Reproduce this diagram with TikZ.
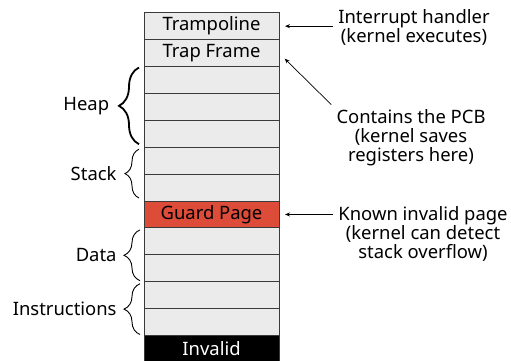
\documentclass[tikz,border=0pt]{standalone}
\usepackage{fontspec}
\setmainfont{Noto Sans}
\usetikzlibrary{positioning, arrows.meta, decorations.pathreplacing}

\definecolor{pagegray}{HTML}{EBEBEB}
\definecolor{guardred}{HTML}{DD4B39}
\definecolor{edgegray}{HTML}{3A3A3A}

\tikzset{
  page/.style={draw=edgegray, fill=pagegray, line width=0.9bp, minimum width=135bp,
    minimum height=26.9bp, inner sep=0pt, outer sep=0pt},
  note/.style={align=center, inner sep=5bp},
  pointer/.style={-{Stealth[length=5bp, width=4bp]}, line width=0.7bp, shorten >=6bp},
  region/.style={decorate, decoration={brace, amplitude=#1}, line width=0.9bp},
  tag/.style={inner sep=0pt},
}

\begin{document}
\begin{tikzpicture}[x=1bp, y=-1bp, node distance=0pt, font=\fontsize{18.5}{19}\selectfont]
  \useasboundingbox (0,0) rectangle (511,360);

  % the pages, top to bottom
  \node[page] (tramp) at (211.5, 26.15) {Trampoline};
  \node[page, below=of tramp] (trap) {Trap Frame};
  \node[page, below=of trap] (heapa) {};
  \node[page, below=of heapa] (heapb) {};
  \node[page, below=of heapb] (heapc) {};
  \node[page, below=of heapc] (stacka) {};
  \node[page, below=of stacka] (stackb) {};
  \node[page, below=of stackb, fill=guardred] (guard) {Guard Page};
  \node[page, below=of guard] (dataa) {};
  \node[page, below=of dataa] (datab) {};
  \node[page, below=of datab] (insta) {};
  \node[page, below=of insta] (instb) {};
  \node[page, below=of instb, fill=black, text=white] (invalid) {Invalid};

  % regions on the left
  \draw[region=20bp, line width=1.8bp] ([xshift=-5bp, yshift=3bp]heapc.south west) -- ([xshift=-5bp, yshift=-1bp]heapa.north west)
    node[tag, midway, left=29bp] (heap) {Heap};
  \draw[region=14bp] ([xshift=-5bp, yshift=3bp]stackb.south west) -- ([xshift=-5bp, yshift=-2bp]stacka.north west)
    node[tag, midway, left=22bp] (stack) {Stack};
  \draw[region=16bp] ([xshift=-4bp, yshift=1bp]datab.south west) -- ([xshift=-4bp, yshift=-2bp]dataa.north west)
    node[tag, midway, left=23bp] (data) {Data};
  \draw[region=16bp] ([xshift=-4bp, yshift=1bp]instb.south west) -- ([xshift=-4bp, yshift=-2bp]insta.north west)
    node[tag, midway, left=23bp] (inst) {Instructions};

  % notes on the right
  \node[note] (inth) at (414, 27) {Interrupt handler\\(kernel executes)};
  \node[note] (pcb) at (411, 138) {Contains the PCB\\(kernel saves\\registers here)};
  \node[note] (known) at (423, 234) {Known invalid page\\(kernel can detect\\stack overflow)};

  \draw[pointer] (tramp.east -| inth.west) -- (tramp.east);
  \draw[pointer, shorten >=8bp] (pcb.north west) -- (trap.east);
  \draw[pointer] (guard.east -| known.west) -- (guard.east);
\end{tikzpicture}
\end{document}
